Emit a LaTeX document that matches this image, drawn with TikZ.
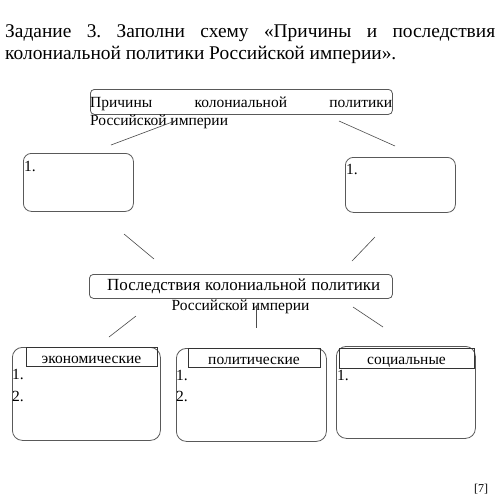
\documentclass[tikz,border=0pt]{standalone}
\usepackage{fontspec}
\setmainfont{Liberation Serif}
\frenchspacing
\begin{document}
\begin{tikzpicture}[x=1pt,y=-1pt,
  box/.style={draw=black!65, line width=0.8pt, rounded corners=#1, inner sep=0pt, anchor=north west},
  lab/.style={draw=black!80, line width=0.8pt, inner sep=0pt, anchor=north west},
  txt/.style={inner sep=0pt, font=\fontsize{15.5}{18}\selectfont},
  num/.style={inner sep=0pt, anchor=base west, font=\fontsize{15.5}{18}\selectfont},
  conn/.style={draw=black!70, line width=0.6pt}]
\useasboundingbox (0,0) rectangle (500,499);
\fill[white] (0,0) rectangle (500,499);
% title
\node[inner sep=0pt, anchor=base west, font=\fontsize{19.4}{23}\selectfont] (t1) at (5,37)
  {\makebox[490pt][s]{Задание 3. Заполни схему «Причины и последствия}};
\node[inner sep=0pt, anchor=base west, font=\fontsize{19.4}{23}\selectfont] (t2) at (5,59)
  {колониальной политики Российской империи».};
% top box
\node[box=4pt, minimum width=302pt, minimum height=25pt] (top) at (90,89) {};
\node[txt, anchor=base west] (topt1) at (90,107)
  {\makebox[302pt][s]{Причины колониальной политики}};
\node[txt, anchor=base west] (topt2) at (90,125) {Российской империи};
% cause boxes
\node[box=8pt, minimum width=110pt, minimum height=58pt] (c1) at (23,153) {};
\node[num] (c1n) at (24,171) {1.};
\node[box=8pt, minimum width=110pt, minimum height=55pt] (c2) at (345,157) {};
\node[num] (c2n) at (346,174) {1.};
% consequences box
\node[box=4pt, minimum width=303pt, minimum height=24pt] (mid) at (89,274) {};
\node[inner sep=0pt, anchor=base west, font=\fontsize{17}{19}\selectfont] (midt1) at (107,290)
  {\makebox[273pt][s]{Последствия колониальной политики}};
\node[txt, anchor=base] (midt2) at (240.5,310) {Российской империи};
% bottom boxes
\node[box=10pt, minimum width=148pt, minimum height=93pt] (b1) at (12,347) {};
\node[lab, minimum width=131pt, minimum height=19pt] (b1l) at (26,347) {};
\node[txt, anchor=base] (b1t) at (91.5,363) {экономические};
\node[num] (b1n1) at (12,379) {1.};
\node[num] (b1n2) at (12,401) {2.};
\node[box=10pt, minimum width=150pt, minimum height=93pt] (b2) at (176,348) {};
\node[lab, minimum width=132pt, minimum height=19pt] (b2l) at (188,348) {};
\node[txt, anchor=base] (b2t) at (254,364) {политические};
\node[num] (b2n1) at (176,380) {1.};
\node[num] (b2n2) at (176,401) {2.};
\node[box=10pt, minimum width=139pt, minimum height=92pt] (b3) at (336,346) {};
\node[lab, minimum width=135pt, minimum height=20pt] (b3l) at (339,348) {};
\node[txt, anchor=base] (b3t) at (406.5,364) {социальные};
\node[num] (b3n1) at (337,380) {1.};
% mark
\node[inner sep=0pt, anchor=north west, font=\fontsize{12}{14}\selectfont] (mark) at (474,484) {[7]};
% connectors
\coordinate (l1a) at (111,145); \coordinate (l1b) at (175,121);
\coordinate (l2a) at (339,121); \coordinate (l2b) at (395,146);
\coordinate (l3a) at (124,234); \coordinate (l3b) at (154,259);
\coordinate (l4a) at (375,237); \coordinate (l4b) at (352,261);
\coordinate (l5a) at (136,316); \coordinate (l5b) at (109,337);
\coordinate (l6a) at (256,306); \coordinate (l6b) at (256,328);
\coordinate (l7a) at (353,307); \coordinate (l7b) at (383,327);
\draw[conn] (l1a) -- (l1b);
\draw[conn] (l2a) -- (l2b);
\draw[conn] (l3a) -- (l3b);
\draw[conn] (l4a) -- (l4b);
\draw[conn] (l5a) -- (l5b);
\draw[conn] (l6a) -- (l6b);
\draw[conn] (l7a) -- (l7b);
\end{tikzpicture}
\end{document}
